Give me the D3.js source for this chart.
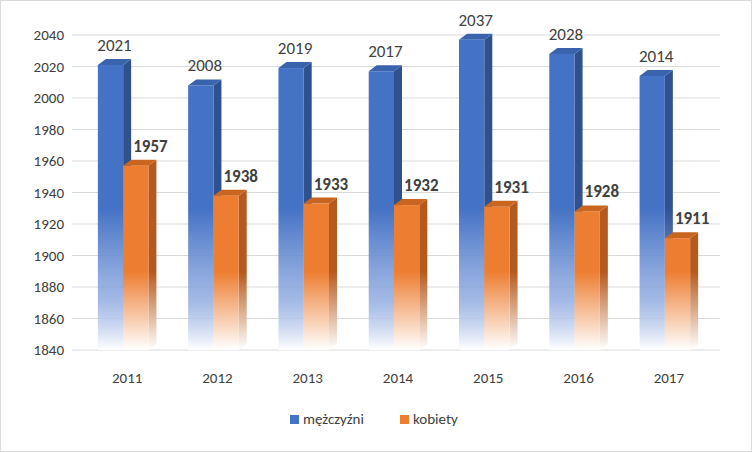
<!DOCTYPE html><html><head><meta charset="utf-8">
<script src="https://cdn.jsdelivr.net/npm/d3@7"></script>
<style>body{margin:0;background:#fff}svg{font-family:Calibri,Carlito,"Liberation Sans",sans-serif}</style></head><body>
<svg id="c" width="752" height="452"></svg>
<script>
const years=["2011","2012","2013","2014","2015","2016","2017"];
const men=[2021,2008,2019,2017,2037,2028,2014];
const women=[1957,1938,1933,1932,1931,1928,1911];
const yTicks=[1840,1860,1880,1900,1920,1940,1960,1980,2000,2020,2040];
const svg=d3.select("#c");
svg.append("rect").attr("x",0.5).attr("y",0.5).attr("width",751).attr("height",451).attr("fill","#fff").attr("stroke","#d9d9d9");
const y=d3.scaleLinear().domain([1840,2040]).range([350,35]);
const x=d3.scaleBand().domain(years).range([78,710]).paddingInner(0.44).paddingOuter(0.22);
const defs=svg.append("defs");
function grad(id,c){const g=defs.append("linearGradient").attr("id",id).attr("gradientUnits","userSpaceOnUse").attr("x1",0).attr("x2",0).attr("y1",35).attr("y2",350);
 c.forEach(s=>g.append("stop").attr("offset",s[0]).attr("stop-color",s[1]).attr("stop-opacity",s[2]));}
grad("gb",[[0,"#4472C4",1],[0.55,"#4472C4",1],[0.85,"#8FAAE0",0.8],[1,"#ffffff",1]]);
grad("gbs",[[0,"#2F528F",1],[0.55,"#2F528F",1],[0.85,"#7E96C8",0.8],[1,"#ffffff",1]]);
grad("go",[[0,"#ED7D31",1],[0.75,"#ED7D31",1],[1,"#ffffff",1]]);
grad("gos",[[0,"#B5591C",1],[0.75,"#B5591C",1],[1,"#ffffff",1]]);
svg.append("g").selectAll("line").data(yTicks).join("line").attr("x1",72).attr("x2",720)
 .attr("y1",d=>y(d)).attr("y2",d=>y(d)).attr("stroke","#d9d9d9");
svg.append("g").selectAll("text").data(yTicks).join("text").attr("x",64).attr("y",d=>y(d)+5)
 .attr("text-anchor","end").attr("font-size",15).attr("fill","#404040").text(d=>d);
const dx=8,dy=6,bw=x.bandwidth()/2;
function bar(x0,v,f,s,top){const yt=y(v),yb=350;const g=svg.append("g");
 g.append("path").attr("d",`M${x0+bw},${yt}L${x0+bw+dx},${yt-dy}L${x0+bw+dx},${yb-dy}L${x0+bw},${yb}Z`).attr("fill",`url(#${s})`);
 g.append("path").attr("d",`M${x0},${yt}L${x0+dx},${yt-dy}L${x0+bw+dx},${yt-dy}L${x0+bw},${yt}Z`).attr("fill",top);
 g.append("rect").attr("x",x0).attr("y",yt).attr("width",bw).attr("height",yb-yt).attr("fill",`url(#${f})`);}
years.forEach((yr,i)=>{const x0=x(yr);
 bar(x0,men[i],"gb","gbs","#3A63AE");bar(x0+bw,women[i],"go","gos","#C9651F");
 svg.append("text").attr("x",x0+bw/2+4).attr("y",y(men[i])-14).attr("text-anchor","middle").attr("font-size",17).attr("fill","#404040").text(men[i]);
 svg.append("text").attr("x",x0+bw*2+2).attr("y",y(women[i])-14).attr("text-anchor","middle").attr("font-size",17).attr("font-weight","bold").attr("fill","#404040").text(women[i]);
 svg.append("text").attr("x",x0+bw+4).attr("y",383).attr("text-anchor","middle").attr("font-size",15).attr("fill","#404040").text(yr);});
const leg=[["mężczyźni","#4472C4",290],["kobiety","#ED7D31",400]];
leg.forEach(l=>{svg.append("rect").attr("x",l[2]).attr("y",415).attr("width",9).attr("height",9).attr("fill",l[1]);
 svg.append("text").attr("x",l[2]+13).attr("y",424).attr("font-size",15).attr("fill","#404040").text(l[0]);});
</script></body></html>
